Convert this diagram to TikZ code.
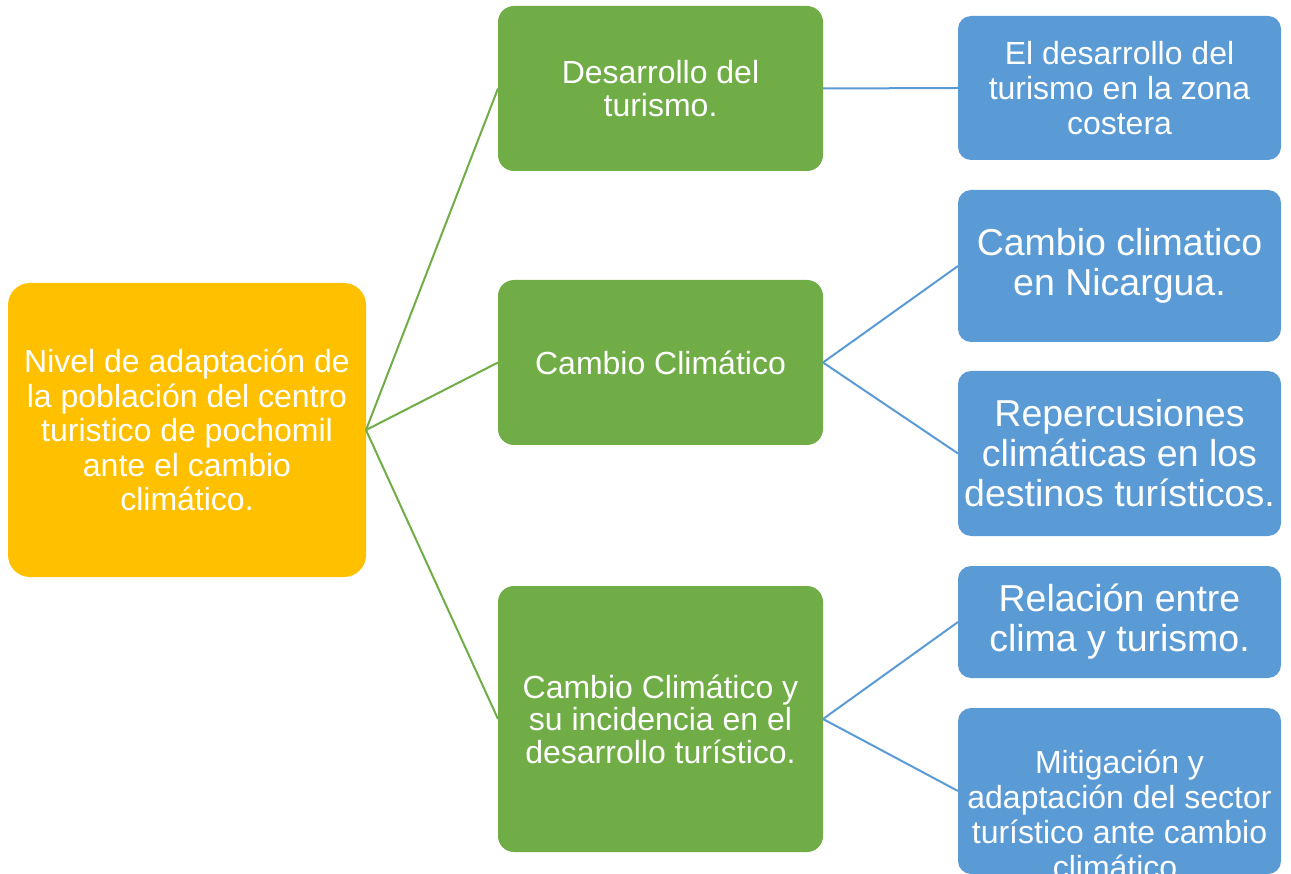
\documentclass[tikz,border=0pt]{standalone}
\usepackage{fontspec}
\setmainfont{Liberation Sans}
\definecolor{cyellow}{HTML}{FFC000}
\definecolor{cgreen}{HTML}{70AD47}
\definecolor{cblue}{HTML}{5B9BD5}
\tikzset{
  boxbase/.style={rectangle, inner sep=0pt, outer sep=0pt, text=white, align=center},
  ybox/.style={boxbase, fill=cyellow, rounded corners=22pt, minimum width=358pt, minimum height=294pt, font=\fontsize{32}{34.5}\selectfont},
  gbox/.style={boxbase, fill=cgreen, rounded corners=16pt, minimum width=325pt, font=\fontsize{32}{32.5}\selectfont},
  bbox/.style={boxbase, fill=cblue, rounded corners=13pt, minimum width=323pt},
  bsmall/.style={font=\fontsize{32}{35}\selectfont},
  bbig/.style={font=\fontsize{37.5}{40}\selectfont},
  gline/.style={draw=cgreen, line width=2pt},
  bline/.style={draw=cblue, line width=2pt}
}
\begin{document}
\begin{tikzpicture}[x=1pt,y=-1pt]
\useasboundingbox (0,0) rectangle (1291,874);
\clip (0,0) rectangle (1291,874);
\node[ybox] (root) at (187,430) {Nivel de adaptación de\\la población del centro\\turistico de pochomil\\ante el cambio\\climático.};
\node[gbox, minimum height=165pt] (g1) at (660.5,88.5) {Desarrollo del\\turismo.};
\node[gbox, minimum height=165pt] (g2) at (660.5,362.5) {Cambio Climático};
\node[gbox, minimum height=266pt] (g3) at (660.5,719) {Cambio Climático y\\su incidencia en el\\desarrollo turístico.};
\node[bbox, bsmall, minimum height=144pt] (b1) at (1119.5,88) {El desarrollo del\\turismo en la zona\\costera};
\node[bbox, bbig, minimum height=152pt] (b2) at (1119.5,266) {Cambio climatico\\en Nicargua.};
\node[bbox, bbig, minimum height=165pt] (b3) at (1119.5,453.5) {Repercusiones\\climáticas en los\\destinos turísticos.};
\node[bbox, bbig, minimum height=112pt] (b4) at (1119.5,622) {Relación entre\\clima y turismo.};
\node[bbox, minimum height=166pt] (b5) at (1119.5,791) {};
\node[boxbase, bsmall] (b5t) at (1119.5,814) {Mitigación y\\adaptación del sector\\turístico ante cambio\\climático.};
\draw[gline] (root.east) -- (g1.west);
\draw[gline] (root.east) -- (g2.west);
\draw[gline] (root.east) -- (g3.west);
\draw[bline] (g1.east) -- (b1.west);
\draw[bline] (g2.east) -- (b2.west);
\draw[bline] (g2.east) -- (b3.west);
\draw[bline] (g3.east) -- (b4.west);
\draw[bline] (g3.east) -- (b5.west);
\end{tikzpicture}
\end{document}
